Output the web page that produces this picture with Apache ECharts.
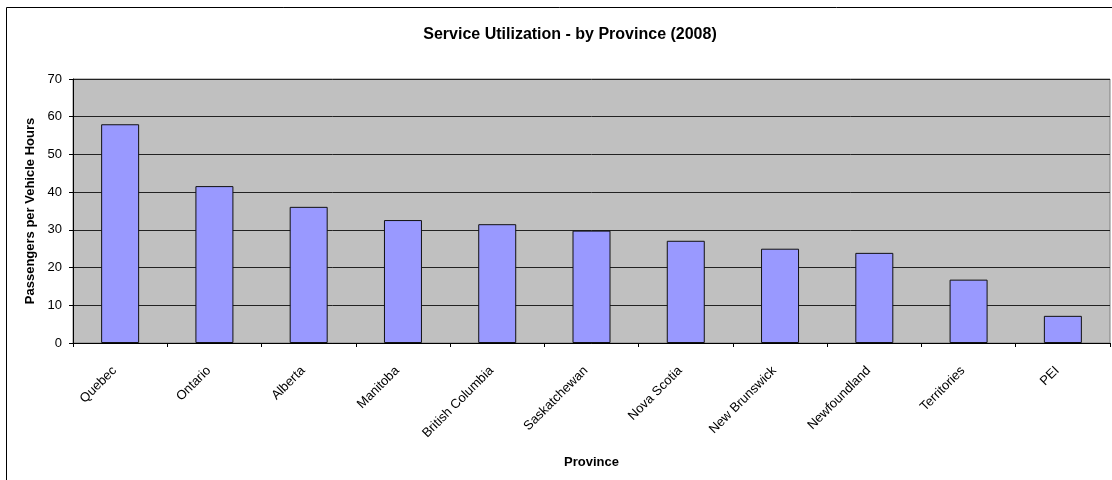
<!DOCTYPE html>
<html>
<head>
<meta charset="utf-8">
<script src="https://cdn.jsdelivr.net/npm/echarts@6/dist/echarts.min.js"></script>
<style>html,body{margin:0;padding:0;background:#fff}#c{width:1112px;height:480px}</style>
</head>
<body>
<div id="c"></div>
<script>
const categories = ['Quebec','Ontario','Alberta','Manitoba','British Columbia','Saskatchewan','Nova Scotia','New Brunswick','Newfoundland','Territories','PEI'];
const values = [58, 41.6, 36.1, 32.6, 31.5, 29.8, 27.1, 25.0, 23.9, 16.8, 7.2];
const titleText = 'Service Utilization - by Province (2008)';
const xName = 'Province';
const yName = 'Passengers per Vehicle Hours';

const font = '"Liberation Sans", Arial, sans-serif';
const chart = echarts.init(document.getElementById('c'), null, {renderer: 'canvas'});
chart.setOption({
  animation: false,
  backgroundColor: '#fff',
  title: {
    text: titleText, left: 565, top: 22, textAlign: 'center',
    textStyle: {fontFamily: font, fontSize: 16, fontWeight: 'bold', color: '#000'}
  },
  graphic: [{
    type: 'rect', z: -1, silent: true,
    shape: {x: 6.5, y: 7.5, width: 1120, height: 490},
    style: {fill: 'none', stroke: '#000', lineWidth: 1}
  }],
  grid: {left: 73, top: 79, right: 2, bottom: 137, show: true, backgroundColor: '#C0C0C0', borderColor: '#808080', borderWidth: 1},
  xAxis: {
    type: 'category', data: categories,
    name: xName, nameLocation: 'middle', nameGap: 113,
    nameTextStyle: {fontFamily: font, fontSize: 13, fontWeight: 'bold', color: '#000'},
    axisLine: {lineStyle: {color: '#000', width: 1}},
    axisTick: {show: true, length: 4, lineStyle: {color: '#000'}},
    axisLabel: {rotate: 45, margin: 20, padding: [0, 8, 0, 0], fontFamily: font, fontSize: 13, color: '#000', interval: 0},
    splitLine: {show: false}
  },
  yAxis: {
    type: 'value', min: 0, max: 70, interval: 10,
    name: yName, nameLocation: 'middle', nameGap: 27,
    nameTextStyle: {fontFamily: font, fontSize: 13, fontWeight: 'bold', color: '#000'},
    axisLine: {show: true, lineStyle: {color: '#000', width: 1}},
    axisTick: {show: true, length: 4, lineStyle: {color: '#000'}},
    axisLabel: {margin: 11, fontFamily: font, fontSize: 13, color: '#000'},
    splitLine: {show: true, lineStyle: {color: '#222', width: 1}}
  },
  series: [{
    type: 'bar', data: values, barWidth: 38,
    itemStyle: {color: '#9999FF', borderColor: '#111', borderWidth: 1}
  }]
});
</script>
</body>
</html>
